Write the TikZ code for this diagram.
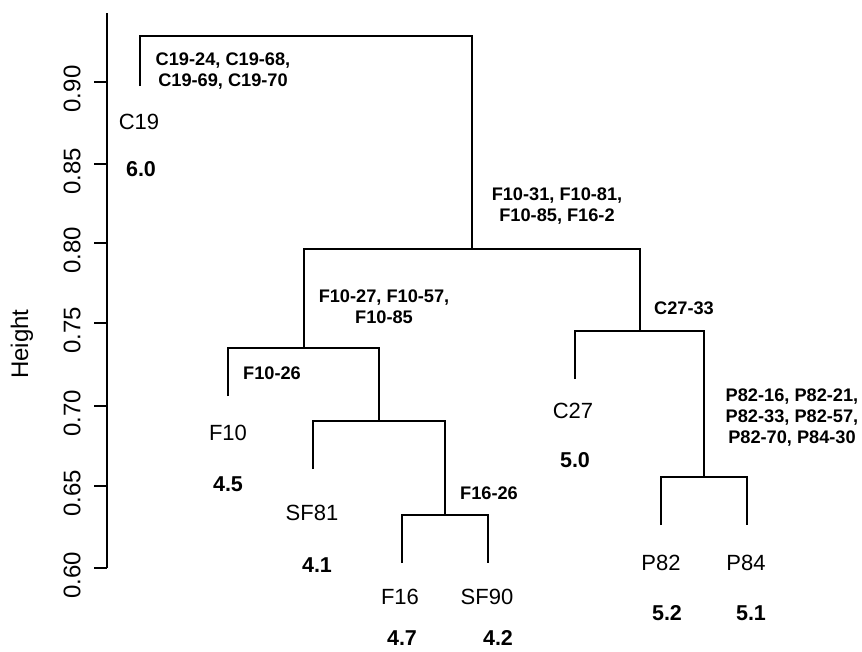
\documentclass[tikz,border=0pt]{standalone}
\usepackage{fontspec}
\setmainfont{Liberation Sans}
\begin{document}
\begin{tikzpicture}[x=1pt,y=-1pt,line width=1.3pt,
  leaf/.style={font=\fontsize{22}{26}\selectfont, inner sep=0pt},
  val/.style={font=\bfseries\fontsize{21.5}{25}\selectfont, inner sep=0pt},
  grp/.style={font=\bfseries\fontsize{18.2}{21}\selectfont, align=center, inner sep=0pt},
  ticklab/.style={font=\fontsize{24}{28}\selectfont, rotate=90, inner sep=0pt}]
\useasboundingbox[fill=white] (0,0) rectangle (862,651);

% axis
\coordinate (atop) at (107,13);
\coordinate (abot) at (107,568);
\draw (atop) -- (abot);
\foreach \yy/\lab in {82/0.90,164/0.85,243/0.80,323/0.75,406/0.70,486/0.65,568/0.60}{
  \draw (94,\yy) -- (107,\yy);
  \node[ticklab] at (72,\yy+7) {\lab};
}
\node[ticklab] (ylab) at (22,344) {Height};

% leaf ends
\coordinate (c19) at (140,86);
\coordinate (f10) at (228,396);
\coordinate (sf81) at (313,469);
\coordinate (f16) at (402,563);
\coordinate (sf90) at (488,563);
\coordinate (c27) at (575,379);
\coordinate (p82) at (661,525);
\coordinate (p84) at (747,525);
% merges
\coordinate (m1) at (445,515);
\coordinate (m2) at (379,421);
\coordinate (m3) at (304,348);
\coordinate (m4) at (704,477);
\coordinate (m5) at (640,331);
\coordinate (m6) at (472,249);
\coordinate (m7) at (306,36);

\draw (f16) |- (m1) -| (sf90);
\draw (sf81) |- (m2) -| (m1);
\draw (f10) |- (m3) -| (m2);
\draw (p82) |- (m4) -| (p84);
\draw (c27) |- (m5) -| (m4);
\draw (m3) |- (m6) -| (m5);
\draw (c19) |- (m7) -| (m6);

% leaf labels
\node[leaf] (lc19) at (139,122) {C19};
\node[val] (vc19) at (141,169) {6.0};
\node[leaf] (lf10) at (228,433) {F10};
\node[val] (vf10) at (228,484) {4.5};
\node[leaf] (lsf81) at (312,513) {SF81};
\node[val] (vsf81) at (317,565) {4.1};
\node[leaf] (lf16) at (400,597) {F16};
\node[val] (vf16) at (402,638) {4.7};
\node[leaf] (lsf90) at (487,597) {SF90};
\node[val] (vsf90) at (498,638) {4.2};
\node[leaf] (lc27) at (573,411) {C27};
\node[val] (vc27) at (575,460) {5.0};
\node[leaf] (lp82) at (661,563) {P82};
\node[val] (vp82) at (667,613) {5.2};
\node[leaf] (lp84) at (746,563) {P84};
\node[val] (vp84) at (751,613) {5.1};

% group labels
\node[grp] (g7) at (223,71) {C19-24, C19-68,\\C19-69, C19-70};
\node[grp] (g6) at (557,206) {F10-31, F10-81,\\F10-85, F16-2};
\node[grp] (g3) at (384,307) {F10-27, F10-57,\\F10-85};
\node[grp] (g2) at (272,373) {F10-26};
\node[grp] (g1) at (489,493) {F16-26};
\node[grp] (g5) at (684,308) {C27-33};
\node[grp] (g4) at (792,418) {P82-16, P82-21,\\P82-33, P82-57,\\P82-70, P84-30};
\end{tikzpicture}
\end{document}
